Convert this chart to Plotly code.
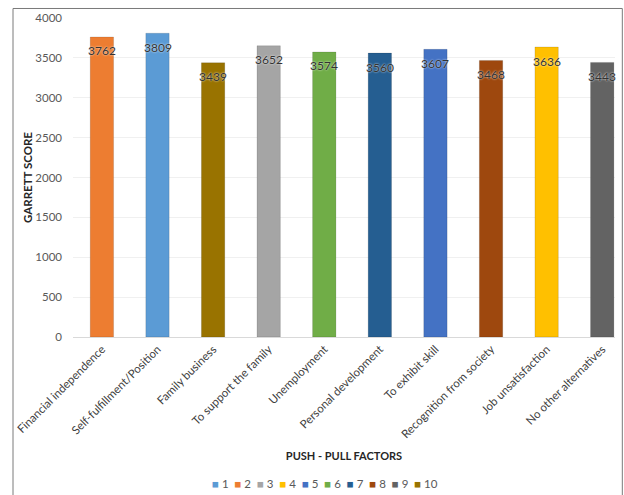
import plotly.graph_objects as go

categories = ["Financial independence", "Self-fulfillment/Position", "Family business",
              "To support the family", "Unemployment", "Personal development",
              "To exhibit skill", "Recognition from society", "Job unsatisfaction",
              "No other alternatives"]
scores = [3762, 3809, 3439, 3652, 3574, 3560, 3607, 3468, 3636, 3443]
bar_colors = ["#ED7D31", "#5B9BD5", "#997300", "#A5A5A5", "#70AD47",
              "#255E91", "#4472C4", "#9E480E", "#FFC000", "#636363"]
legend_labels = ["1", "2", "3", "4", "5", "6", "7", "8", "9", "10"]
legend_colors = ["#5B9BD5", "#ED7D31", "#A5A5A5", "#FFC000", "#4472C4",
                 "#70AD47", "#255E91", "#9E480E", "#636363", "#997300"]

FONT = "Lato, 'Open Sans', sans-serif"

fig = go.Figure()
fig.add_trace(go.Bar(
    x=categories, y=scores, width=0.42,
    marker=dict(color=bar_colors, line=dict(color="rgba(0,0,0,0.12)", width=1)),
    showlegend=False, hoverinfo="x+y",
))

for c, v in zip(categories, scores):
    fig.add_annotation(x=c, y=v, text=str(v), showarrow=False, yanchor="middle",
                       yshift=-14,
                       font=dict(family=FONT, size=12, color="#333333",
                                 shadow="0px 0px 2px #ffffff"))

nb = "\u00a0"
parts = []
for lab, col in zip(legend_labels, legend_colors):
    parts.append(f"<span style='color:{col}'>\u25a0</span>{nb}{lab}")
legend_text = (nb * 2).join(parts)
fig.add_annotation(xref="paper", yref="paper", x=0.465, y=-0.46, text=legend_text,
                   showarrow=False, xanchor="center", yanchor="middle",
                   font=dict(family=FONT, size=11.5, color="#595959"))

# outer chart border
fig.add_shape(type="rect", xref="paper", yref="paper",
              x0=-0.1107, x1=1.0135, y0=-0.6, y1=1.0298,
              line=dict(color="#7a7a7a", width=1), fillcolor="rgba(0,0,0,0)",
              layer="above")

fig.update_layout(
    width=624, height=495,
    margin=dict(l=73, r=9, t=18, b=158),
    paper_bgcolor="white", plot_bgcolor="white",
    font=dict(family=FONT, color="#404040"),
    barmode="overlay",
    xaxis=dict(
        type="category", categoryarray=categories, range=[-0.52, 9.23],
        tickangle=-45, tickfont=dict(size=11.5, color="#404040"),
        showline=True, linecolor="#d9d9d9", linewidth=1, showgrid=False,
        ticks="", automargin=False,
        title=dict(text=nb * 6 + "<b>PUSH - PULL FACTORS</b>", standoff=12,
                   font=dict(size=11, color="#262626")),
    ),
    yaxis=dict(
        range=[0, 4000], dtick=500, showgrid=True, gridcolor="#f0f0f0",
        zeroline=False, showline=False, tickfont=dict(size=11.5, color="#595959"),
        ticklabelstandoff=10, automargin=False,
        title=dict(text="<b>GARRETT SCORE</b>", standoff=0,
                   font=dict(size=11.5, color="#262626")),
    ),
)

fig.write_html("out.html")
